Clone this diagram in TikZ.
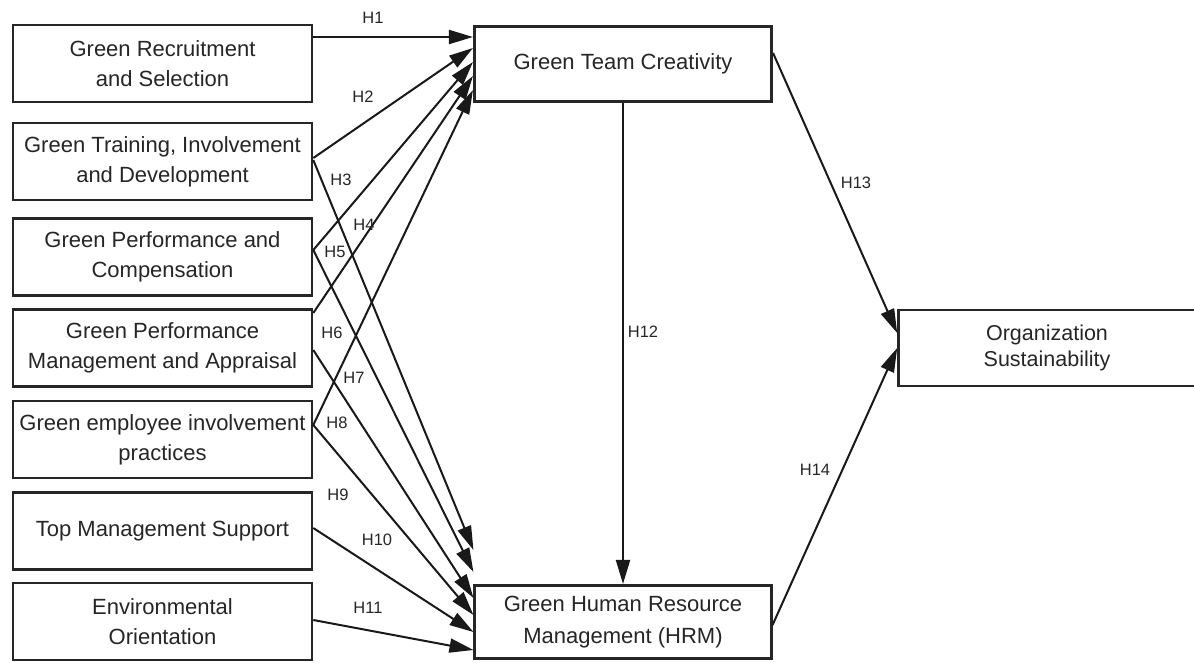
\documentclass[tikz,border=0pt]{standalone}
\usepackage{fontspec}
\setmainfont{Liberation Sans}
\usetikzlibrary{arrows.meta}

\tikzset{
  box/.style={draw=black!85, line width=2.6pt, rectangle, align=center,
    text=black!85, inner sep=2pt, minimum width=299pt, minimum height=77pt,
    font=\fontsize{22}{30}\selectfont},
  conn/.style={draw=black!90, line width=2pt,
    -{Triangle[length=24pt,width=14pt]}},
  lbl/.style={text=black!85, inner sep=0pt, font=\fontsize{16.5}{18}\selectfont}
}

\begin{document}
\begin{tikzpicture}[x=1pt, y=-1pt]
  \useasboundingbox (0,0) rectangle (1194,662);
  \fill[white] (0,0) rectangle (1194,662);

  % antecedent constructs
  \node[box] (b1) at (162.5,63.5)  {Green Recruitment\\and Selection};
  \node[box] (b2) at (162.5,161.5) {Green Training, Involvement\\and Development};
  \node[box] (b3) at (162.5,257)   {Green Performance and\\Compensation};
  \node[box] (b4) at (162.5,348)   {Green Performance\\Management and Appraisal};
  \node[box] (b5) at (162.5,439.5) {Green employee involvement\\practices};
  \node[box] (b6) at (162.5,531)   {Top Management Support};
  \node[box] (b7) at (162.5,621.5) {Environmental\\Orientation};

  % mediators and outcome
  \node[box, minimum height=75.5pt, minimum width=297.5pt] (gtc)  at (623,64)  {Green Team Creativity};
  \node[box, minimum height=73.5pt, minimum width=296.5pt, font=\fontsize{22}{32}\selectfont] (ghrm) at (623,622) {Green Human Resource\\Management (HRM)};
  \node[box, minimum height=76pt, minimum width=297pt, font=\fontsize{21.5}{26}\selectfont] (org) at (1047,348) {Organization\\Sustainability};

  % paths into Green Team Creativity
  \draw[conn] ([yshift=26.5pt]b1.east) -- ([yshift=27pt]gtc.west);
  \draw[conn] ([yshift=3.5pt]b2.east)  -- ([yshift=16pt]gtc.west);
  \draw[conn] ([yshift=7pt]b3.east)    -- ([yshift=2pt]gtc.west);
  \draw[conn] ([yshift=35pt]b4.east)   -- ([yshift=-12pt]gtc.west);
  \draw[conn] ([yshift=14.5pt]b5.east) -- ([yshift=-26pt]gtc.west);

  % paths into Green HRM
  \draw[conn] ([yshift=1.5pt]b2.east)  -- ([yshift=72pt]ghrm.west);
  \draw[conn] ([yshift=7pt]b3.east)    -- ([yshift=50pt]ghrm.west);
  \draw[conn] ([yshift=-2pt]b4.east)   -- ([yshift=24pt]ghrm.west);
  \draw[conn] ([yshift=14.5pt]b5.east) -- ([yshift=7pt]ghrm.west);
  \draw[conn] ([yshift=3pt]b6.east)    -- ([yshift=-10pt]ghrm.west);
  \draw[conn] ([yshift=1.5pt]b7.east)  -- ([yshift=-28pt]ghrm.west);

  % mediator and outcome paths
  \draw[conn] (gtc.south) -- (ghrm.north);
  \draw[conn] ([yshift=11pt]gtc.east)  -- ([yshift=15pt]org.west);
  \draw[conn] ([yshift=-3pt]ghrm.east) -- ([yshift=0pt]org.west);

  % hypothesis labels
  \node[lbl] (l1)  at (373,18)  {H1};
  \node[lbl] (l2)  at (363,97)  {H2};
  \node[lbl] (l3)  at (341,180) {H3};
  \node[lbl] (l4)  at (364,225) {H4};
  \node[lbl] (l5)  at (335,252) {H5};
  \node[lbl] (l6)  at (332,333) {H6};
  \node[lbl] (l7)  at (354,378) {H7};
  \node[lbl] (l8)  at (337,423) {H8};
  \node[lbl] (l9)  at (338,495) {H9};
  \node[lbl] (l10) at (377,540) {H10};
  \node[lbl] (l11) at (368,608) {H11};
  \node[lbl] (l12) at (643,332) {H12};
  \node[lbl] (l13) at (856,183) {H13};
  \node[lbl] (l14) at (815,470) {H14};
\end{tikzpicture}
\end{document}
